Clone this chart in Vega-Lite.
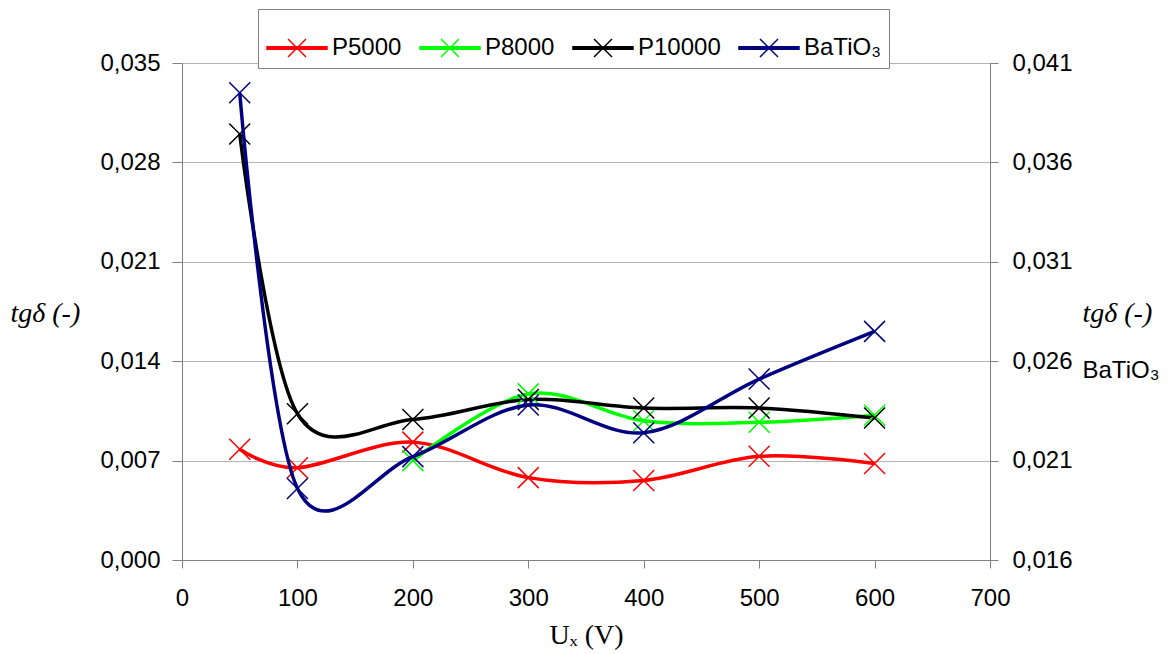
{
  "$schema": "https://vega.github.io/schema/vega-lite/v6.json",
  "width": 808,
  "height": 497,
  "autosize": {"type": "none"},
  "padding": {"left": 182, "top": 63, "right": 179, "bottom": 94},
  "background": "white",
  "config": {"view": {"stroke": null}, "font": "Liberation Sans"},
  "datasets": {
    "p": [
      {"U": 50, "s": "P5000", "v": 0.0078},
      {"U": 100, "s": "P5000", "v": 0.0065},
      {"U": 200, "s": "P5000", "v": 0.0083},
      {"U": 300, "s": "P5000", "v": 0.0058},
      {"U": 400, "s": "P5000", "v": 0.0056},
      {"U": 500, "s": "P5000", "v": 0.0073},
      {"U": 600, "s": "P5000", "v": 0.0068},
      {"U": 200, "s": "P8000", "v": 0.0070},
      {"U": 300, "s": "P8000", "v": 0.0117},
      {"U": 400, "s": "P8000", "v": 0.0098},
      {"U": 500, "s": "P8000", "v": 0.0097},
      {"U": 600, "s": "P8000", "v": 0.0102},
      {"U": 50, "s": "P10000", "v": 0.0300},
      {"U": 100, "s": "P10000", "v": 0.0103},
      {"U": 200, "s": "P10000", "v": 0.0099},
      {"U": 300, "s": "P10000", "v": 0.0113},
      {"U": 400, "s": "P10000", "v": 0.0107},
      {"U": 500, "s": "P10000", "v": 0.0107},
      {"U": 600, "s": "P10000", "v": 0.0100}
    ],
    "b": [
      {"U": 50, "s": "BaTiO₃", "v": 0.0395},
      {"U": 100, "s": "BaTiO₃", "v": 0.0196},
      {"U": 200, "s": "BaTiO₃", "v": 0.0212},
      {"U": 300, "s": "BaTiO₃", "v": 0.0238},
      {"U": 400, "s": "BaTiO₃", "v": 0.0224},
      {"U": 500, "s": "BaTiO₃", "v": 0.0251},
      {"U": 600, "s": "BaTiO₃", "v": 0.0275}
    ]
  },
  "encoding": {
    "x": {
      "field": "U", "type": "quantitative",
      "scale": {"domain": [0, 700], "nice": false},
      "axis": {
        "values": [0, 100, 200, 300, 400, 500, 600, 700],
        "grid": false, "domainColor": "#808080", "tickColor": "#808080", "tickSize": 8,
        "labelFontSize": 24, "labelPadding": 18, "labelColor": "black", "labelFlush": false, "labelOverlap": false, "labelBound": false,
        "title": "Uₓ (V)", "titleFont": "Liberation Serif", "titleFontSize": 28, "titleFontWeight": "normal", "titleColor": "black",
        "titleX": 404, "titleY": 75, "titleBaseline": "middle", "titleAlign": "center"
      }
    },
    "color": {
      "field": "s", "type": "nominal",
      "scale": {"domain": ["P5000", "P8000", "P10000", "BaTiO₃"], "range": ["#ff0000", "#00ff00", "#000000", "#000080"]},
      "legend": {
        "orient": "none", "legendX": 76, "legendY": -54, "direction": "horizontal", "title": null,
        "strokeColor": "#808080", "fillColor": "white", "padding": 8,
        "labelFont": "Liberation Sans", "labelFontSize": 24, "labelColor": "black", "labelOffset": 4,
        "symbolType": "M-1,-0.04L1,-0.04L1,0.04L-1,0.04ZM-0.3,-0.3L0.3,0.3M-0.3,0.3L0.3,-0.3",
        "symbolSize": 3600, "symbolStrokeWidth": 1.5, "columnPadding": 15,
        "encode": {"symbols": {"update": {"fill": {"scale": "color", "field": "value"}, "stroke": {"scale": "color", "field": "value"}, "opacity": {"value": 1}}}}
      }
    }
  },
  "layer": [
    {
      "data": {"name": "p"},
      "encoding": {
        "y": {
          "field": "v", "type": "quantitative",
          "scale": {"domain": [0, 0.035], "nice": false, "zero": false},
          "axis": {
            "values": [0, 0.007, 0.014, 0.021, 0.028, 0.035],
            "labelExpr": "replace(format(datum.value, '.3f'), '.', ',')",
            "grid": true, "gridColor": "#b4b4b4", "gridWidth": 1,
            "domainColor": "#808080", "tickColor": "#808080", "tickSize": 10,
            "labelPadding": 12, "labelFontSize": 24, "labelColor": "black", "labelOverlap": false, "labelFlush": false, "labelBound": false,
            "title": "tgδ   (-)", "titleFont": "Liberation Serif", "titleFontStyle": "italic", "titleFontSize": 28, "titleFontWeight": "normal", "titleColor": "black",
            "titleAngle": 0, "titleAlign": "left", "titleBaseline": "middle", "titleX": -172, "titleY": 250
          }
        }
      },
      "layer": [
        {"mark": {"type": "line", "interpolate": "cardinal", "strokeWidth": 3.5}},
        {"mark": {"type": "point", "shape": "M-1,-1L1,1M-1,1L1,-1", "size": 441, "filled": false, "strokeWidth": 1.5, "opacity": 1}}
      ]
    },
    {
      "data": {"name": "b"},
      "mark": {"type": "line", "interpolate": "cardinal", "strokeWidth": 3.5},
      "encoding": {
        "y": {
          "field": "v", "type": "quantitative",
          "scale": {"domain": [0.016, 0.041], "nice": false, "zero": false},
          "axis": {
            "orient": "right",
            "values": [0.016, 0.021, 0.026, 0.031, 0.036, 0.041],
            "labelExpr": "replace(format(datum.value, '.3f'), '.', ',')",
            "grid": false,
            "domainColor": "#808080", "tickColor": "#808080", "tickSize": 8,
            "labelPadding": 14, "labelFontSize": 24, "labelColor": "black", "labelOverlap": false, "labelFlush": false, "labelBound": false,
            "title": "tgδ   (-)", "titleFont": "Liberation Serif", "titleFontStyle": "italic", "titleFontSize": 28, "titleFontWeight": "normal", "titleColor": "black",
            "titleAngle": 0, "titleAlign": "left", "titleBaseline": "middle", "titleX": 92, "titleY": 250
          }
        }
      }
    },
    {
      "data": {"name": "b"},
      "mark": {"type": "point", "shape": "M-1,-1L1,1M-1,1L1,-1", "size": 441, "filled": false, "strokeWidth": 1.5, "opacity": 1},
      "encoding": {
        "y": {
          "field": "v", "type": "quantitative",
          "scale": {"domain": [0.016, 0.041], "nice": false, "zero": false},
          "axis": {
            "orient": "right", "offset": 0,
            "values": [], "domain": false, "ticks": false, "labels": false, "grid": false,
            "title": "BaTiO₃", "titleFont": "Liberation Sans", "titleFontSize": 24, "titleFontWeight": "normal", "titleColor": "black",
            "titleAngle": 0, "titleAlign": "left", "titleBaseline": "middle", "titleX": 92, "titleY": 307
          }
        }
      }
    }
  ],
  "resolve": {"scale": {"y": "independent"}}
}
